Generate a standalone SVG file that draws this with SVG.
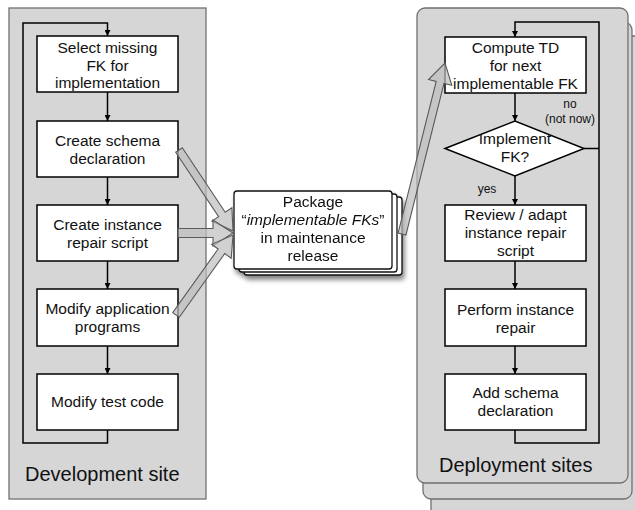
<svg xmlns="http://www.w3.org/2000/svg" width="635" height="510" viewBox="0 0 635 510">
<defs>
<style>
.panel{fill:#d6d6d6;stroke:#707070;stroke-width:1.3}
.box{fill:#fff;stroke:#000;stroke-width:1.5}
.pkg{fill:#fff;stroke:#111;stroke-width:1.3}
.t{font-family:"Liberation Sans",Arial,sans-serif;font-size:15.5px;fill:#111;text-anchor:middle}
.lbl{font-family:"Liberation Sans",Arial,sans-serif;font-size:12px;fill:#111;text-anchor:middle}
.site{font-family:"Liberation Sans",Arial,sans-serif;font-size:20px;fill:#111}
.ln{fill:none;stroke:#000;stroke-width:1.5}
.arr{marker-end:url(#ah)}
.blk{fill:#bdbdbd;fill-opacity:0.7;stroke:#5a5a5a;stroke-width:1.1;stroke-linejoin:miter}
</style>
<marker id="ah" viewBox="0 0 10 10" refX="10" refY="5" markerWidth="6" markerHeight="6" markerUnits="userSpaceOnUse" orient="auto">
<path d="M0,0 L10,5 L0,10 z" fill="#000"/>
</marker>
<filter id="sh" x="-10%" y="-10%" width="130%" height="140%">
<feGaussianBlur in="SourceAlpha" stdDeviation="2.5"/>
<feOffset dx="2" dy="4" result="b"/>
<feComponentTransfer><feFuncA type="linear" slope="0.5"/></feComponentTransfer>
<feMerge><feMergeNode/><feMergeNode in="SourceGraphic"/></feMerge>
</filter>
</defs>

<g id="development-site">
<rect class="panel" x="9" y="8" width="197" height="491"/>
<text class="site" x="25" y="481">Development site</text>
</g>

<g id="deployment-sites">
<rect class="panel" x="431" y="36" width="212" height="490" rx="8"/>
<rect class="panel" x="423" y="22" width="209" height="477" rx="8"/>
<rect class="panel" x="417" y="8" width="211" height="475" rx="8"/>
<text class="site" x="439" y="472">Deployment sites</text>
</g>

<g id="select-missing-fk">
<rect class="box" x="37" y="36" width="141" height="56"/>
<text class="t" x="107.5" y="53">Select missing</text>
<text class="t" x="107.5" y="71">FK for</text>
<text class="t" x="107.5" y="88">implementation</text>
</g>
<g id="create-schema-declaration">
<rect class="box" x="37" y="121" width="141" height="56"/>
<text class="t" x="107.5" y="146">Create schema</text>
<text class="t" x="107.5" y="164">declaration</text>
</g>
<g id="create-instance-repair-script">
<rect class="box" x="37" y="205" width="141" height="56"/>
<text class="t" x="107.5" y="230">Create instance</text>
<text class="t" x="107.5" y="248">repair script</text>
</g>
<g id="modify-application-programs">
<rect class="box" x="37" y="289" width="141" height="57"/>
<text class="t" x="107.5" y="314">Modify application</text>
<text class="t" x="107.5" y="332">programs</text>
</g>
<g id="modify-test-code">
<rect class="box" x="37" y="374" width="141" height="56"/>
<text class="t" x="107.5" y="407">Modify test code</text>
</g>

<g id="package-release" filter="url(#sh)">
<rect class="pkg" x="244" y="197" width="158" height="78" rx="3"/>
<rect class="pkg" x="239" y="194" width="158" height="78" rx="3"/>
<rect class="pkg" x="234" y="191" width="158" height="78" rx="3"/>
<text class="t" x="313" y="207">Package</text>
<text class="t" x="313" y="225">“<tspan font-style="italic">implementable FKs</tspan>”</text>
<text class="t" x="313" y="243">in maintenance</text>
<text class="t" x="313" y="261">release</text>
</g>

<g id="compute-td">
<rect class="box" x="445" y="37" width="141" height="56"/>
<text class="t" x="515.5" y="53">Compute TD</text>
<text class="t" x="515.5" y="71">for next</text>
<text class="t" x="515.5" y="89">implementable FK</text>
</g>
<g id="implement-fk-decision">
<polygon class="box" points="445,148.5 515,121 584,148.5 515,176"/>
<text class="t" x="515" y="144">Implement</text>
<text class="t" x="515" y="162">FK?</text>
</g>
<g id="review-adapt-script">
<rect class="box" x="445" y="205" width="141" height="56"/>
<text class="t" x="515.5" y="220">Review / adapt</text>
<text class="t" x="515.5" y="238">instance repair</text>
<text class="t" x="515.5" y="256">script</text>
</g>
<g id="perform-instance-repair">
<rect class="box" x="445" y="289" width="141" height="57"/>
<text class="t" x="515.5" y="315">Perform instance</text>
<text class="t" x="515.5" y="333">repair</text>
</g>
<g id="add-schema-declaration">
<rect class="box" x="445" y="374" width="141" height="56"/>
<text class="t" x="515.5" y="398">Add schema</text>
<text class="t" x="515.5" y="416">declaration</text>
</g>

<g id="connectors">
<line class="ln arr" x1="107.5" y1="92" x2="107.5" y2="121"/>
<line class="ln arr" x1="107.5" y1="177" x2="107.5" y2="205"/>
<line class="ln arr" x1="107.5" y1="261" x2="107.5" y2="289"/>
<line class="ln arr" x1="107.5" y1="346" x2="107.5" y2="374"/>
<polyline class="ln arr" points="107.5,430 107.5,443 23,443 23,23 107.5,23 107.5,36"/>

<line class="ln arr" x1="515" y1="93" x2="515" y2="121"/>
<line class="ln arr" x1="515" y1="176" x2="515" y2="205"/>
<line class="ln arr" x1="515" y1="261" x2="515" y2="289"/>
<line class="ln arr" x1="515" y1="346" x2="515" y2="374"/>
<polyline class="ln arr" points="515,430 515,443 599,443 599,22 515,22 515,37"/>
<line class="ln" x1="584" y1="148.5" x2="599" y2="148.5"/>
<text class="lbl" x="570" y="108">no</text>
<text class="lbl" x="570" y="123">(not now)</text>
<text class="lbl" x="487" y="193">yes</text>

<polygon class="blk" points="175.7,152.2 218.6,216.6 211.9,221.1 233,231 231.9,207.7 225.2,212.2 182.3,147.8"/>
<polygon class="blk" points="178,228.5 213,228.5 213,220 233,233 213,246 213,237.5 178,237.5"/>
<polygon class="blk" points="179.3,317.3 224.7,253.6 231.2,258.3 233,235 211.6,244.3 218.1,249 172.7,312.7"/>
<polygon class="blk" points="405.9,235 444,83.4 451.8,85.3 445,63 428.5,79.5 436.2,81.4 398.1,233"/>
</g>
</svg>
